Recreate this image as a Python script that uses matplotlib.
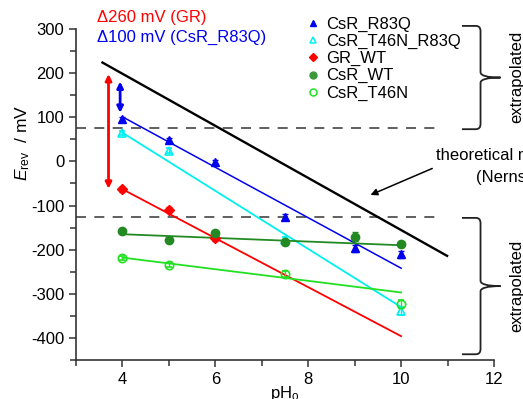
import matplotlib
matplotlib.use("Agg")
import matplotlib.pyplot as plt
from matplotlib.path import Path
from matplotlib.patches import PathPatch
from matplotlib.lines import Line2D
from matplotlib.ticker import MultipleLocator, FixedLocator

plt.rcParams['font.family'] = ['Liberation Sans', 'DejaVu Sans']
plt.rcParams['mathtext.fontset'] = 'custom'
plt.rcParams['mathtext.rm'] = 'Liberation Sans'
plt.rcParams['mathtext.it'] = 'Liberation Sans:italic'
plt.rcParams['axes.unicode_minus'] = False

# ---- data ----
pH_R83Q = [4, 5, 6, 7.5, 9, 10]
E_R83Q = [95, 48, -2, -126, -197, -210]
err_R83Q = [6, 6, 6, 6, 8, 8]

pH_T46N_R83Q = [4, 5, 7.5, 10]
E_T46N_R83Q = [65, 24, -177, -339]
err_T46N_R83Q = [5, 6, 6, 8]

pH_GR = [4, 5, 6]
E_GR = [-63, -109, -173]
err_GR = [6, 6, 8]

pH_WT = [4, 5, 6, 7.5, 9, 10]
E_WT = [-158, -178, -163, -182, -171, -188]
err_WT = [4, 5, 5, 6, 10, 5]

pH_T46N = [4, 5, 7.5, 10]
E_T46N = [-219, -235, -255, -323]
err_T46N = [5, 5, 6, 10]

fit_pH = [4, 10]
fit_R83Q = [101, -242]
fit_T46N_R83Q = [65, -330]
fit_GR = [-63, -396]
fit_WT = [-165, -190]
fit_T46N = [-218, -297]

theory_pH = [3.57, 10.99]
theory_E = [224, -214]

dash_levels = [75, -125]
dash_pH = [3, 10.74]

arrow_GR = [-62, 198]
arrow_R83Q = [110, 181]

labels = ['CsR_R83Q', 'CsR_T46N_R83Q', 'GR_WT', 'CsR_WT', 'CsR_T46N']

fig = plt.figure(figsize=(5.23, 3.99), dpi=100)
ax = fig.add_axes([76/523, 1 - 360/399, (494-76)/523, (360-29)/399])
ax.set_xlim(3, 12)
ax.set_ylim(-450, 300)

c_blue = '#0000ee'
c_cyan = '#00f0f0'
c_red = '#ff0000'
c_dgreen = '#238a23'
c_lgreen = '#22e022'

# theory & dashed lines
ax.plot(theory_pH, theory_E, color='black', lw=1.7, zorder=2)
for lvl in dash_levels:
    ax.plot(dash_pH, [lvl, lvl], color='#444444', lw=1.2, dashes=(6, 5), zorder=1)

# fits
ax.plot(fit_pH, fit_R83Q, color=c_blue, lw=1.1)
ax.plot(fit_pH, fit_T46N_R83Q, color=c_cyan, lw=1.3)
ax.plot(fit_pH, fit_GR, color=c_red, lw=1.3)
ax.plot(fit_pH, fit_WT, color=c_dgreen, lw=1.3)
ax.plot(fit_pH, fit_T46N, color=c_lgreen, lw=1.3)

# data
ms = 5
ax.errorbar(pH_R83Q, E_R83Q, yerr=err_R83Q, fmt='^', color=c_blue, ms=ms+1,
            capsize=2, elinewidth=1)
ax.errorbar(pH_T46N_R83Q, E_T46N_R83Q, yerr=err_T46N_R83Q, fmt='^', color=c_cyan,
            mfc='none', mew=1.2, ms=ms+1, capsize=2, elinewidth=1)
ax.errorbar(pH_GR, E_GR, yerr=err_GR, fmt='D', color=c_red, ms=ms,
            capsize=2, elinewidth=1)
ax.errorbar(pH_WT, E_WT, yerr=err_WT, fmt='o', color=c_dgreen, ms=ms+1,
            capsize=2, elinewidth=1)
ax.errorbar(pH_T46N, E_T46N, yerr=err_T46N, fmt='o', color=c_lgreen, mfc='none',
            mew=1.2, ms=ms+1, capsize=2, elinewidth=1)

# double arrows
ax.annotate('', xy=(3.70, arrow_GR[0]), xytext=(3.70, arrow_GR[1]),
            arrowprops=dict(arrowstyle='<|-|>', color=c_red, lw=2, mutation_scale=9,
                            shrinkA=0, shrinkB=0))
ax.annotate('', xy=(3.95, arrow_R83Q[0]), xytext=(3.95, arrow_R83Q[1]),
            arrowprops=dict(arrowstyle='<|-|>', color=c_blue, lw=2, mutation_scale=9,
                            shrinkA=0, shrinkB=0))

ax.text(3.45, 327, 'Δ260 mV (GR)', color=c_red, fontsize=12, va='center', ha='left',
        clip_on=False)
ax.text(3.45, 280, 'Δ100 mV (CsR_R83Q)', color=c_blue, fontsize=12, va='center', ha='left',
        clip_on=False)

# theoretical annotation
ax.text(10.76, 14, 'theoretical model', fontsize=12, va='center', ha='left', clip_on=False)
ax.text(11.62, -36, '(Nernst)', fontsize=12, va='center', ha='left', clip_on=False)
ax.annotate('', xy=(9.34, -76), xytext=(10.67, -16),
            arrowprops=dict(arrowstyle='-|>', color='black', lw=1.1, mutation_scale=10,
                            shrinkA=0, shrinkB=0), annotation_clip=False)

# braces
def brace(y_top, y_bot, x_left=11.31, x_spine=11.71, x_tip=12.14):
    ym = (y_top + y_bot) / 2
    r = 12
    verts = [(x_left, y_top), (x_spine - 0.1, y_top),
             (x_spine, y_top), (x_spine, y_top - r),
             (x_spine, ym + r),
             (x_spine, ym), (x_tip, ym),
             (x_spine, ym), (x_spine, ym - r),
             (x_spine, y_bot + r),
             (x_spine, y_bot), (x_spine - 0.1, y_bot),
             (x_left, y_bot)]
    codes = [Path.MOVETO, Path.LINETO,
             Path.CURVE3, Path.CURVE3,
             Path.LINETO,
             Path.CURVE3, Path.CURVE3,
             Path.CURVE3, Path.CURVE3,
             Path.LINETO,
             Path.CURVE3, Path.CURVE3,
             Path.LINETO]
    p = PathPatch(Path(verts, codes), fill=False, edgecolor='#222222', lw=1.3, clip_on=False)
    ax.add_patch(p)

brace(307, 73)
brace(-128, -437)
ax.text(12.5, 192, 'extrapolated', rotation=90, fontsize=12, va='center', ha='center',
        clip_on=False)
ax.text(12.5, -282, 'extrapolated', rotation=90, fontsize=12, va='center', ha='center',
        clip_on=False)

# legend (marker-only proxies)
proxies = [
    Line2D([], [], ls='none', marker='^', color=c_blue, ms=5),
    Line2D([], [], ls='none', marker='^', color=c_cyan, mfc='none', mew=1.1, ms=5),
    Line2D([], [], ls='none', marker='D', color=c_red, ms=4.5),
    Line2D([], [], ls='none', marker='o', color='#3a9a3a', ms=5),
    Line2D([], [], ls='none', marker='o', color=c_lgreen, mfc='none', mew=1.1, ms=5),
]
ax.legend(handles=proxies, labels=labels, loc='upper left', bbox_to_anchor=(0.553, 1.038),
          frameon=False, fontsize=12, handlelength=0.7, handletextpad=0.45,
          labelspacing=0.13, borderpad=0, borderaxespad=0)

# axes styling
for s in ['top', 'right']:
    ax.spines[s].set_visible(False)
for s in ['left', 'bottom']:
    ax.spines[s].set_color('#333333')
    ax.spines[s].set_linewidth(1.2)
ax.xaxis.set_major_locator(FixedLocator([4, 6, 8, 10, 12]))
ax.xaxis.set_minor_locator(FixedLocator([3, 5, 7, 9, 11]))
ax.yaxis.set_major_locator(MultipleLocator(100))
ax.yaxis.set_minor_locator(MultipleLocator(50))
ax.tick_params(which='both', direction='out', color='#333333', width=1.1, labelsize=12)
ax.tick_params(which='major', length=5)
ax.tick_params(which='minor', length=4)
ax.set_yticks([-400, -300, -200, -100, 0, 100, 200, 300])

ax.set_xlabel('pH$_\\mathrm{o}$', fontsize=12, labelpad=-2)
ax.set_ylabel('$E_\\mathrm{rev}$  / mV', fontsize=12.5)
ax.yaxis.set_label_coords(-0.105, 0.655)

fig.savefig('out.png', dpi=100)
